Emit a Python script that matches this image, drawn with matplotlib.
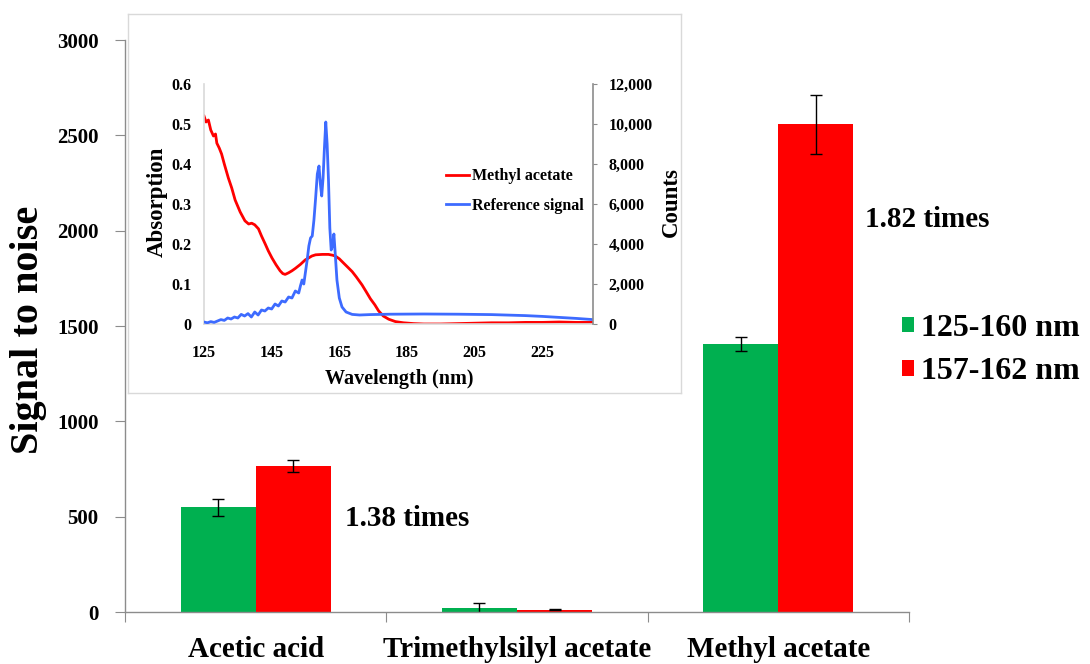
import matplotlib
matplotlib.use("Agg")
import matplotlib.pyplot as plt
from matplotlib.patches import Patch
import numpy as np

plt.rcParams['font.family'] = ['Liberation Serif', 'DejaVu Serif']
plt.rcParams['font.weight'] = 'bold'

# ---------------- main bar data ----------------
categories = ["Acetic acid", "Trimethylsilyl acetate", "Methyl acetate"]
series_names = ["125-160 nm", "157-162 nm"]
sn_125_160 = [550, 20, 1405]
err_125_160 = [45, 25, 35]
sn_157_162 = [766, 12, 2557]
err_157_162 = [30, 3, 156]
y_ticks = [0, 500, 1000, 1500, 2000, 2500, 3000]
ratio_labels = ["1.38 times", "1.82 times"]

# ---------------- inset data ----------------
wl_abs = [125, 125.6, 126.3, 127, 127.8, 128.4, 128.8, 129.5, 130.2, 131, 132.2, 133.2,
          134.2, 135.7, 137.1, 138.2, 139.1, 140, 141.1, 142, 143.1, 144, 145.1, 146.3,
          147.5, 148.3, 149, 150, 151, 152, 153.5, 154.9, 156.9, 158, 160, 161.8, 163,
          163.8, 165, 166.3, 167.5, 168.8, 170, 171.7, 173, 174.2, 175.5, 176.6, 178,
          179.6, 181.6, 184, 187, 190, 195, 200, 205, 210, 215, 220, 225, 230, 235, 240]
absorption = [0.52, 0.505, 0.51, 0.485, 0.47, 0.475, 0.452, 0.44, 0.425, 0.4, 0.365, 0.34,
              0.31, 0.28, 0.258, 0.25, 0.252, 0.248, 0.238, 0.22, 0.20, 0.183, 0.165, 0.148,
              0.133, 0.126, 0.124, 0.128, 0.133, 0.139, 0.149, 0.16, 0.17, 0.173, 0.174,
              0.174, 0.172, 0.17, 0.163, 0.152, 0.142, 0.131, 0.118, 0.098, 0.08, 0.063,
              0.048, 0.033, 0.02, 0.012, 0.006, 0.003, 0.001, 0.0, 0.0, 0.001, 0.002, 0.003,
              0.003, 0.004, 0.004, 0.005, 0.004, 0.004]
wl_ref = [125, 126, 127, 128, 129, 130, 131, 132, 133, 134, 135, 136, 137, 138, 139, 140,
          141, 142, 143, 144, 145, 146, 147, 148, 149, 150, 151, 152, 153, 153.5, 154, 154.5,
          155, 155.5, 156, 156.5, 157, 157.5, 158, 158.5, 159, 159.4, 159.8, 160.2, 160.6,
          161, 161.4, 161.8, 162.2, 162.6, 163, 163.4, 163.8, 164.3, 165, 165.8, 167, 168.8,
          171, 174, 180, 190, 200, 205, 210, 220, 225, 230, 235, 240]
counts = [100, 60, 120, 80, 150, 220, 180, 300, 250, 350, 300, 480, 400, 520, 350, 600,
          450, 700, 650, 800, 750, 1000, 900, 1150, 1100, 1350, 1300, 1650, 1550, 1900, 2200,
          2000, 2600, 3200, 3900, 4300, 4400, 5200, 6300, 7500, 7900, 7000, 6400, 7300, 8800,
          10100, 9000, 7200, 4800, 3700, 3900, 4500, 3500, 2200, 1300, 850, 600, 480, 450,
          470, 490, 500, 490, 480, 470, 420, 380, 330, 280, 220]
inset_xticks = [125, 145, 165, 185, 205, 225]
abs_ticks = [0, 0.1, 0.2, 0.3, 0.4, 0.5, 0.6]
abs_ticklabels = ["0", "0.1", "0.2", "0.3", "0.4", "0.5", "0.6"]
count_ticks = [0, 2000, 4000, 6000, 8000, 10000, 12000]
count_ticklabels = ["0", "2,000", "4,000", "6,000", "8,000", "10,000", "12,000"]

GREEN = "#00B050"
RED = "#FF0000"
BLUE = "#3D6BFF"
AXGRAY = "#8c8c8c"

W, H = 1090, 664
fig = plt.figure(figsize=(W / 100, H / 100), dpi=100)

def fx(px):
    return px / W

def fy(py):
    return 1 - py / H

# ---------------- main axes ----------------
ax = fig.add_axes([fx(125), fy(612), fx(909) - fx(125), fy(40) - fy(612)])
ax.set_zorder(0)
x = np.arange(len(categories))
bw = 0.287
ekw = dict(ecolor="black", elinewidth=1, capsize=4, capthick=1)
ax.bar(x - bw / 2, sn_125_160, bw, color=GREEN, yerr=err_125_160, error_kw=ekw,
       label=series_names[0])
ax.bar(x + bw / 2, sn_157_162, bw, color=RED, yerr=err_157_162, error_kw=ekw,
       label=series_names[1])
ax.set_xlim(-0.5, len(categories) - 0.5)
ax.set_ylim(0, 3000)
ax.set_yticks(y_ticks)
ax.set_yticklabels([str(v) for v in y_ticks], fontsize=15, fontweight='bold')
ax.set_xticks(np.arange(len(categories) + 1) - 0.5)
ax.set_xticklabels([])
ax.set_xticks(x, minor=True)
ax.set_xticklabels(categories, minor=True, fontsize=21, fontweight='bold')
ax.tick_params(axis='x', which='minor', length=0, pad=17)
ax.tick_params(axis='x', which='major', length=7, color=AXGRAY, direction='out')
ax.tick_params(axis='y', length=7, color=AXGRAY, direction='out', pad=12)
for s in ["top", "right"]:
    ax.spines[s].set_visible(False)
for s in ["left", "bottom"]:
    ax.spines[s].set_color(AXGRAY)
    ax.spines[s].set_linewidth(1)

fig.text(fx(29), fy(330), "Signal to noise", rotation=90, ha="center", va="center",
         fontsize=29, fontweight='bold')

ax.text(0.341, 493, ratio_labels[0], fontsize=21, fontweight='bold', ha="left", va="center")
ax.text(2.33, 2056, ratio_labels[1], fontsize=21, fontweight='bold', ha="left", va="center")

leg_handles = [Patch(facecolor=GREEN, edgecolor="none"), Patch(facecolor=RED, edgecolor="none")]
fig.legend(leg_handles, series_names, loc="center left",
           bbox_to_anchor=(fx(902), fy(350)), frameon=False,
           prop=dict(size=23, weight='bold'), handlelength=0.38, handleheight=0.38,
           handletextpad=0.2, labelspacing=0.45, borderaxespad=0, borderpad=0)

# ---------------- inset frame ----------------
axf = fig.add_axes([fx(128), fy(393), fx(681) - fx(128), fy(14) - fy(393)])
axf.set_zorder(1)
axf.set_xticks([])
axf.set_yticks([])
for s in axf.spines.values():
    s.set_color("#d9d9d9")
    s.set_linewidth(1)
axf.patch.set_facecolor("white")

# ---------------- inset axes ----------------
axi = fig.add_axes([fx(204), fy(324), fx(593) - fx(204), fy(84) - fy(324)])
axi.set_zorder(2)
axi.patch.set_alpha(0)
l1, = axi.plot(wl_abs, absorption, color=RED, lw=2, label="Methyl acetate")
axi.set_xlim(125, 240)
axi.set_ylim(0, 0.6)
axi.set_xticks(inset_xticks)
axi.set_xticklabels([str(v) for v in inset_xticks], fontsize=11.5, fontweight='bold')
axi.set_yticks(abs_ticks)
axi.set_yticklabels(abs_ticklabels, fontsize=11.5, fontweight='bold')
axi.tick_params(axis='x', length=0, pad=15)
axi.tick_params(axis='y', length=0, pad=9)
for s in ["top", "right"]:
    axi.spines[s].set_visible(False)
for s in ["left", "bottom"]:
    axi.spines[s].set_color("#d9d9d9")
    axi.spines[s].set_linewidth(1.2)

axr = axi.twinx()
axr.set_zorder(3)
axr.patch.set_alpha(0)
l2, = axr.plot(wl_ref, counts, color=BLUE, lw=2, label="Reference signal")
axr.set_ylim(0, 12000)
axr.set_yticks(count_ticks)
axr.set_yticklabels(count_ticklabels, fontsize=11.5, fontweight='bold')
axr.tick_params(axis='y', length=3, color=AXGRAY, pad=8)
for s in ["top", "left", "bottom"]:
    axr.spines[s].set_visible(False)
axr.spines["right"].set_color(AXGRAY)
axr.spines["right"].set_linewidth(1.2)

fig.text(fx(399), fy(379), "Wavelength (nm)", ha="center", va="center",
         fontsize=14.5, fontweight='bold')
fig.text(fx(157), fy(202), "Absorption", rotation=90, ha="center", va="center",
         fontsize=16.5, fontweight='bold')
fig.text(fx(671), fy(202), "Counts", rotation=90, ha="center", va="center",
         fontsize=16.5, fontweight='bold')

axr.legend([l1, l2], ["Methyl acetate", "Reference signal"], loc="center left",
           bbox_to_anchor=(fx(440), fy(191)), bbox_transform=fig.transFigure,
           frameon=False, prop=dict(size=11.5, weight='bold'), handlelength=1.4,
           handletextpad=0.2, labelspacing=0.85, borderaxespad=0)

fig.savefig("out.png", dpi=100)
